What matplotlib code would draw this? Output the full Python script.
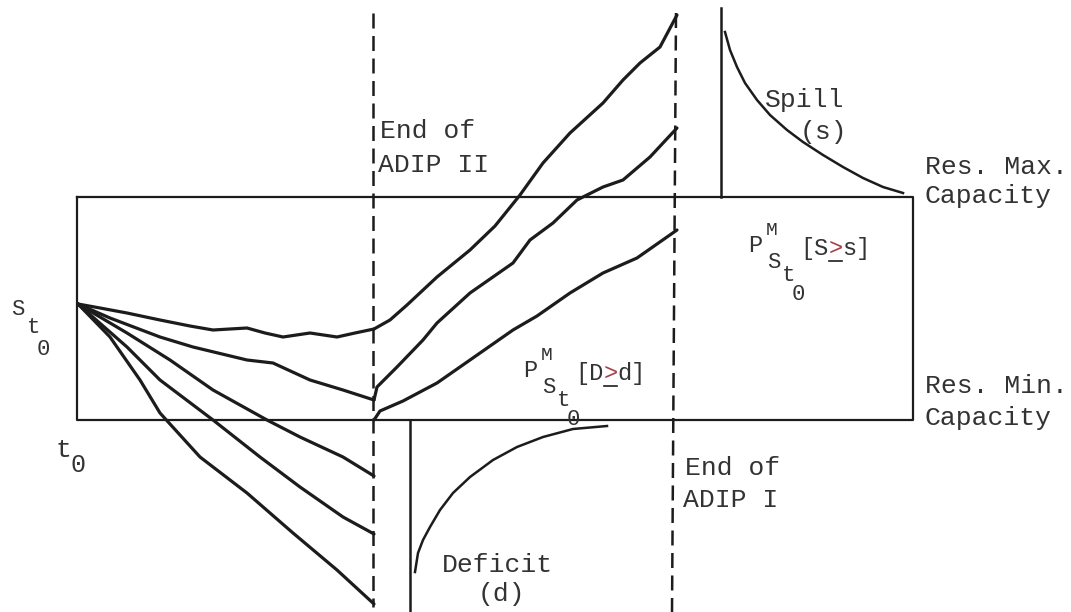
import numpy as np
import matplotlib
matplotlib.use('Agg')
import matplotlib.pyplot as plt

# schematic storage traces, in picture units (x = time, y = storage, y grows down)
start = (78, 304)

fall_x = [
    [78, 100, 127, 160, 190, 213, 247, 265, 283, 310, 337, 355, 374],
    [78, 110, 160, 193, 247, 273, 310, 343, 374],
    [78, 127, 170, 213, 267, 300, 343, 374],
    [78, 127, 160, 213, 260, 300, 343, 374],
    [78, 110, 140, 160, 200, 247, 293, 337, 374],
]
fall_y = [
    [304, 308, 313, 320, 326, 330, 328, 333, 337, 333, 337, 333, 329],
    [304, 318, 337, 347, 360, 363, 380, 390, 400],
    [304, 333, 360, 390, 420, 437, 457, 476],
    [304, 347, 380, 420, 457, 487, 517, 534],
    [304, 337, 380, 413, 457, 493, 533, 570, 604],
]

rise_x = [
    [374, 390, 407, 437, 470, 495, 520, 543, 570, 603, 623, 640, 660, 677],
    [374, 377, 397, 423, 437, 470, 513, 530, 553, 577, 603, 623, 650, 677],
    [374, 380, 403, 437, 470, 513, 537, 570, 603, 637, 677],
]
rise_y = [
    [329, 320, 305, 277, 250, 226, 195, 163, 133, 103, 80, 63, 47, 15],
    [400, 387, 367, 340, 323, 293, 263, 240, 223, 200, 187, 180, 157, 128],
    [420, 411, 401, 383, 360, 330, 316, 293, 273, 258, 230],
]

spill_x = [725, 730, 737, 745, 757, 770, 787, 803, 823, 843, 863, 883, 903]
spill_y = [32, 50, 67, 83, 100, 115, 130, 142, 155, 167, 178, 187, 193]
deficit_x = [415, 418, 423, 430, 440, 453, 470, 493, 517, 543, 573, 607]
deficit_y = [572, 553, 540, 527, 510, 493, 477, 460, 447, 437, 429, 426]

res_left, res_right = 77, 913
res_max, res_min = 197, 420
adip2_x = 373
adip1_x = (676, 672)

ink = '#1c1c1c'
txt = '#333333'
red = '#a8404c'
mono = 'Liberation Mono'

fig = plt.figure(figsize=(10.71, 6.12), dpi=100)
ax = fig.add_axes([0, 0, 1, 1])
ax.set_xlim(0, 1071)
ax.set_ylim(612, 0)
ax.axis('off')

# reservoir box
ax.plot([res_left, res_right, res_right, res_left, res_left],
        [res_max, res_max, res_min, res_min, res_max], color=ink, lw=1.6)

# ADIP end markers
ax.plot([adip2_x, adip2_x], [13, 607], color=ink, lw=1.8, dashes=(6, 3))
ax.plot(adip1_x, [13, 612], color=ink, lw=1.8, dashes=(6, 3))

for xs, ys in zip(fall_x, fall_y):
    ax.plot(xs, ys, color=ink, lw=2.3, solid_joinstyle='round', solid_capstyle='round')
for xs, ys in zip(rise_x, rise_y):
    ax.plot(xs, ys, color=ink, lw=2.3, solid_joinstyle='round', solid_capstyle='round')

# spill and deficit distributions
ax.plot([721, 721], [8, res_max], color=ink, lw=1.8)
ax.plot(spill_x, spill_y, color=ink, lw=1.8)
ax.plot([410, 410], [res_min, 612], color=ink, lw=1.8)
ax.plot(deficit_x, deficit_y, color=ink, lw=1.8)


def label(x, y, s, size=19, color=txt):
    ax.text(x, y, s, fontsize=size, family=mono, color=color, ha='left', va='baseline')


label(380, 138, 'End of')
label(378, 172, 'ADIP II')
label(685, 475, 'End of')
label(683, 507, 'ADIP I')
label(765, 107, 'Spill')
label(800, 139, '(s)')
label(442, 572, 'Deficit')
label(478, 601, '(d)')
label(925, 174, 'Res. Max.')
label(925, 203, 'Capacity')
label(925, 393, 'Res. Min.')
label(925, 425, 'Capacity')

# S_t0 at the start, t0 under the axis
label(11, 315, 'S', 16)
label(27, 333, 't', 16)
label(37, 355, '0', 16)
label(56, 457, 't', 19)
label(70, 472, '0', 18)


def prob(px, py, a, b):
    label(px, py, 'P', 17)
    label(px + 18, py - 17, 'M', 14)
    label(px + 19, py + 16, 'S', 16)
    label(px + 34, py + 29, 't', 16)
    label(px + 44, py + 48, '0', 16)
    bx = px + 52
    by = py + 3
    cw = 0.6 * 17 * 100 / 72
    label(bx, by, '[' + a, 17)
    label(bx + 2 * cw, by, '>', 17, red)
    label(bx + 3 * cw, by, b + ']', 17)
    ax.plot([bx + 2 * cw + 1, bx + 3 * cw - 1], [by + 6, by + 6], color=ink, lw=1.2)


prob(523, 377, 'D', 'd')
prob(748, 252, 'S', 's')

fig.savefig('out.png', dpi=100)
